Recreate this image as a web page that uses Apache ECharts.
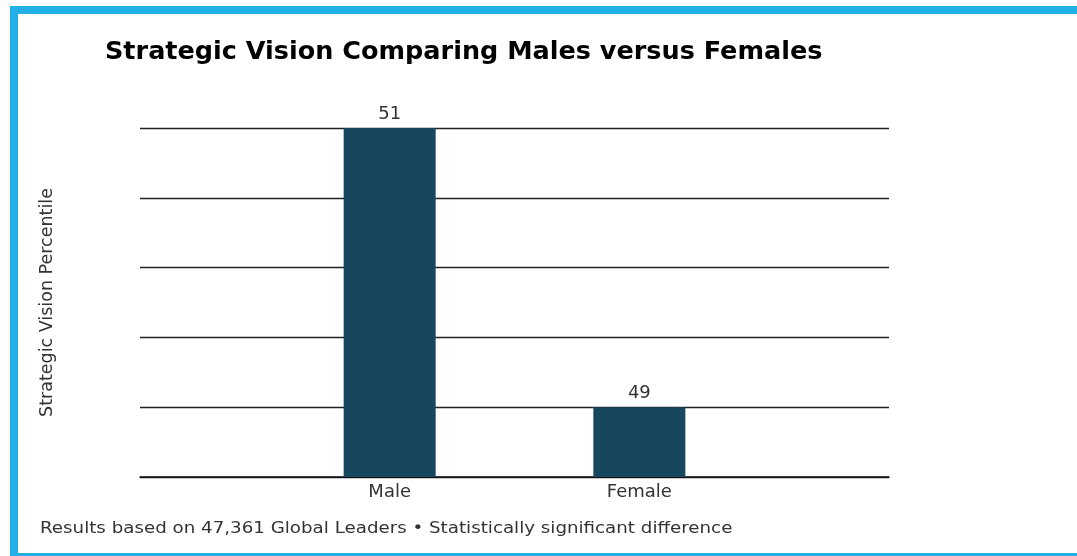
<!DOCTYPE html>
<html><head><meta charset="utf-8">
<style>html,body{margin:0;padding:0;background:#fff}#c{width:1077px;height:556px}</style>
<script src="https://cdn.jsdelivr.net/npm/echarts@6/dist/echarts.min.js"></script>
</head><body><div id="c"></div>
<script>
const categories = ['Male', 'Female'];
const values = [51, 49];
const yMin = 48.5, yMax = 51, yStep = 0.5;
const titleText = 'Strategic Vision Comparing Males versus Females';
const yAxisName = 'Strategic Vision Percentile';
const footnote = 'Results based on 47,361 Global Leaders \u2022 Statistically significant difference';

const font = '"DejaVu Sans", sans-serif';
const axisCats = [''].concat(categories, ['']);
const seriesData = ['-'].concat(values, ['-']);
const blue = '#22b0e6';

const chart = echarts.init(document.getElementById('c'), null, {renderer: 'canvas'});
chart.setOption({
  backgroundColor: '#fff',
  animation: false,
  textStyle: {fontFamily: font},
  title: {
    text: titleText, left: 100, top: 34,
    textStyle: {fontFamily: font, fontSize: 25.5, fontWeight: 'bold', color: '#000'}
  },
  grid: {left: 140, right: 188, top: 128, bottom: 79, containLabel: false},
  xAxis: {
    type: 'category', data: axisCats, boundaryGap: false,
    axisLine: {show: true, lineStyle: {color: '#111', width: 1.5}},
    axisTick: {show: false},
    axisLabel: {color: '#333', fontSize: 18, margin: 6, fontFamily: font},
    splitLine: {show: false}
  },
  yAxis: {
    type: 'value', min: yMin, max: yMax, interval: yStep,
    name: yAxisName, nameLocation: 'middle', nameGap: 84, nameRotate: 90,
    nameTextStyle: {color: '#333', fontSize: 17.5, fontFamily: font},
    axisLine: {show: false}, axisTick: {show: false}, axisLabel: {show: false},
    splitLine: {show: true, lineStyle: {color: '#222', width: 1.3}}
  },
  series: [{
    type: 'bar', data: seriesData, barWidth: 92,
    itemStyle: {color: '#17465f'},
    label: {show: true, position: 'top', distance: 5, color: '#333', fontSize: 18, fontFamily: font}
  }],
  graphic: [
    {type: 'rect', shape: {x: 10, y: 6, width: 1067, height: 8}, style: {fill: blue}, z: 100},
    {type: 'rect', shape: {x: 10, y: 6, width: 8, height: 550}, style: {fill: blue}, z: 100},
    {type: 'rect', shape: {x: 10, y: 553, width: 1067, height: 3}, style: {fill: blue}, z: 100},
    {type: 'text', x: 40, y: 521, scaleX: 1.14, z: 100,
     style: {text: footnote, fill: '#333', fontSize: 16, fontFamily: font}}
  ]
});
</script></body></html>
